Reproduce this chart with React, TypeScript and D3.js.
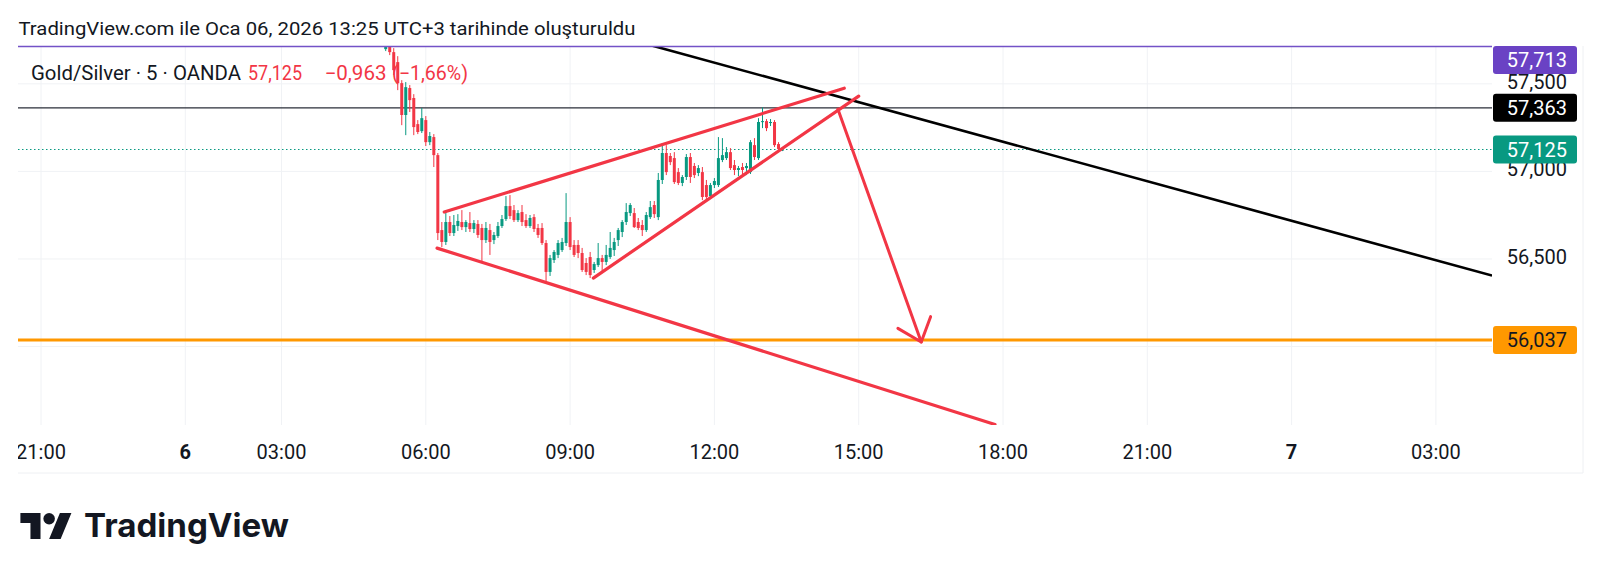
import React from 'react';
import * as d3 from 'd3';

// ---- data ----
const titleText = 'TradingView.com ile Oca 06, 2026 13:25 UTC+3 tarihinde oluşturuldu';
const symbolText = 'Gold/Silver · 5 · OANDA';
const lastPrice = 57.125;
const change = -0.963;
const changePct = -1.66;

// 5-minute bars on Jan 6, first bar time
const firstBarTime = '05:10';
const opens = [57.698, 57.715, 57.681, 57.624, 57.504, 57.322, 57.476, 57.419, 57.270, 57.230,
  57.293, 57.167, 57.196, 57.093, 56.665, 56.597, 56.711, 56.648, 56.688, 56.711,
  56.682, 56.705, 56.671, 56.700, 56.677, 56.608, 56.665, 56.608, 56.631, 56.688,
  56.728, 56.802, 56.779, 56.722, 56.768, 56.722, 56.688, 56.739, 56.677, 56.677,
  56.591, 56.426, 56.494, 56.523, 56.551, 56.591, 56.711, 56.580, 56.580, 56.534,
  56.477, 56.511, 56.437, 56.465, 56.505, 56.483, 56.511, 56.551, 56.608, 56.654,
  56.711, 56.762, 56.762, 56.711, 56.694, 56.665, 56.739, 56.808, 56.739, 56.951,
  57.105, 57.088, 57.076, 56.996, 56.934, 56.968, 57.082, 57.031, 56.991, 56.996,
  56.922, 56.859, 56.922, 56.922, 57.065, 57.076, 57.110, 57.036, 57.008, 57.025,
  57.019, 56.996, 57.150, 57.076, 57.282, 57.287, 57.276, 57.282, 57.156, 57.122];
const highs = [57.727, 57.727, 57.704, 57.658, 57.521, 57.510, 57.493, 57.441, 57.293, 57.362,
  57.316, 57.225, 57.213, 57.105, 56.711, 56.768, 56.745, 56.751, 56.756, 56.779,
  56.722, 56.768, 56.722, 56.722, 56.700, 56.711, 56.700, 56.654, 56.711, 56.751,
  56.859, 56.865, 56.808, 56.779, 56.808, 56.756, 56.751, 56.756, 56.700, 56.705,
  56.608, 56.523, 56.551, 56.608, 56.620, 56.876, 56.739, 56.608, 56.608, 56.563,
  56.505, 56.540, 56.483, 56.591, 56.523, 56.580, 56.654, 56.620, 56.677, 56.722,
  56.819, 56.819, 56.791, 56.734, 56.722, 56.768, 56.831, 56.831, 56.991, 57.162,
  57.150, 57.105, 57.110, 57.019, 56.979, 57.099, 57.105, 57.048, 57.036, 57.025,
  56.951, 56.934, 56.962, 57.196, 57.190, 57.139, 57.133, 57.065, 57.031, 57.048,
  57.048, 57.179, 57.190, 57.304, 57.365, 57.299, 57.299, 57.293, 57.167, 57.139];
const lows = [57.687, 57.664, 57.550, 57.464, 57.264, 57.207, 57.339, 57.207, 57.213, 57.219,
  57.145, 57.150, 57.025, 56.608, 56.568, 56.580, 56.631, 56.631, 56.660, 56.665,
  56.654, 56.654, 56.648, 56.620, 56.483, 56.591, 56.523, 56.585, 56.620, 56.677,
  56.717, 56.728, 56.711, 56.711, 56.688, 56.677, 56.677, 56.654, 56.620, 56.580,
  56.368, 56.403, 56.477, 56.505, 56.540, 56.574, 56.551, 56.511, 56.505, 56.426,
  56.408, 56.391, 56.420, 56.454, 56.420, 56.465, 56.500, 56.517, 56.574, 56.625,
  56.694, 56.745, 56.677, 56.665, 56.631, 56.654, 56.728, 56.734, 56.722, 56.928,
  56.979, 57.036, 56.928, 56.922, 56.916, 56.951, 56.934, 56.962, 56.973, 56.836,
  56.836, 56.848, 56.905, 56.911, 57.053, 57.065, 57.008, 56.979, 56.973, 56.985,
  56.979, 56.985, 57.065, 57.065, 57.247, 57.230, 57.259, 57.139, 57.110, 57.116];
const closes = [57.715, 57.681, 57.578, 57.504, 57.322, 57.481, 57.407, 57.253, 57.225, 57.304,
  57.167, 57.202, 57.093, 56.648, 56.597, 56.711, 56.648, 56.694, 56.717, 56.682,
  56.711, 56.671, 56.705, 56.637, 56.608, 56.677, 56.597, 56.637, 56.688, 56.728,
  56.802, 56.745, 56.722, 56.762, 56.711, 56.688, 56.734, 56.671, 56.637, 56.591,
  56.426, 56.505, 56.540, 56.591, 56.597, 56.711, 56.568, 56.523, 56.534, 56.437,
  56.426, 56.408, 56.471, 56.505, 56.483, 56.523, 56.563, 56.597, 56.665, 56.711,
  56.768, 56.808, 56.682, 56.677, 56.665, 56.751, 56.796, 56.756, 56.951, 57.105,
  56.996, 57.053, 56.939, 56.934, 56.968, 57.082, 56.968, 56.979, 57.019, 56.854,
  56.854, 56.922, 56.945, 57.076, 57.093, 57.110, 57.019, 57.008, 57.019, 57.008,
  57.031, 57.167, 57.082, 57.282, 57.287, 57.247, 57.282, 57.150, 57.128, 57.125];

// time axis labels: [day, time, label]
const timeTicks: [number, string, string][] = [
  [5, '21:00', '21:00'], [6, '00:00', '6'], [6, '03:00', '03:00'], [6, '06:00', '06:00'],
  [6, '09:00', '09:00'], [6, '12:00', '12:00'], [6, '15:00', '15:00'], [6, '18:00', '18:00'],
  [6, '21:00', '21:00'], [7, '00:00', '7'], [7, '03:00', '03:00'],
];
const gridPrices = [56.0, 56.5, 57.0, 57.5];
const priceLabels = [56.5, 57.0, 57.5];

// horizontal levels
const purpleLevel = 57.713;
const blackLevel = 57.363;
const supportLevel = 56.037;

// drawings: [day, time, price]
const trendLine: [number, string, number][] = [[6, '09:37', 57.80], [7, '04:10', 56.405]];
const wedgeUpper: [number, string, number][] = [[6, '06:23', 56.768], [6, '14:42', 57.475]];
const wedgeLower: [number, string, number][] = [[6, '09:29', 56.391], [6, '15:00', 57.430]];
const fallingLine: [number, string, number][] = [[6, '06:14', 56.562], [6, '17:50', 55.555]];
const arrowLine: [number, string, number][] = [[6, '14:34', 57.356], [6, '16:18', 56.026]];

// ---- helpers ----
// compressed chart time (hours from Jan 5 21:00; 01:00-02:00 break on Jan 6 removed)
function toT(day: number, hhmm: string) {
  const [h, m] = hhmm.split(':').map(Number);
  const hr = h + m / 60;
  if (day === 5) return hr - 21;
  if (day === 6) return hr < 1 ? 3 + hr : hr + 2;
  return 26 + hr;
}
function addMinutes(hhmm: string, mins: number) {
  const [h, m] = hhmm.split(':').map(Number);
  const t = h * 60 + m + mins;
  return `${String(Math.floor(t / 60)).padStart(2, '0')}:${String(t % 60).padStart(2, '0')}`;
}
const fmt = (v: number) => d3.format('.3f')(v).replace('.', ',');
const fmtSigned = (v: number, d: number) => (v < 0 ? '\u2212' : '') + d3.format(`.${d}f`)(Math.abs(v)).replace('.', ',');

const GREEN = '#089981';
const RED = '#F23645';
const TXT = '#131722';
const FONT = 'Roboto, "Noto Sans", sans-serif';

export default function App() {
  const plot = { l: 18, r: 1492, t: 46, b: 425 };
  const x = d3.scaleLinear().domain([0, 30]).range([41, 41 + 30 * 48.1]);
  const y = d3.scaleLinear().domain([55.552, 57.716]).range([plot.b, plot.t]);
  const px = (p: [number, string, number]) => [x(toT(p[0], p[1])), y(p[2])];

  const candles = opens.map((o, i) => {
    const t = addMinutes(firstBarTime, i * 5);
    return { cx: x(toT(6, t)), o, h: highs[i], l: lows[i], c: closes[i] };
  });

  const seg = (pts: [number, string, number][]) => {
    const [a, b] = pts.map(px);
    return { x1: a[0], y1: a[1], x2: b[0], y2: b[1] };
  };

  const arrow = seg(arrowLine);
  const ang = Math.atan2(arrow.y1 - arrow.y2, arrow.x1 - arrow.x2);
  const wl = 27, wa = (40 * Math.PI) / 180;
  const wing1 = [arrow.x2 + wl * Math.cos(ang + wa), arrow.y2 + wl * Math.sin(ang + wa)];
  const wing2 = [arrow.x2 + wl * Math.cos(ang - wa), arrow.y2 + wl * Math.sin(ang - wa)];

  const boxes = [
    { v: purpleLevel, fill: '#6a42c4', text: '#ffffff' },
    { v: blackLevel, fill: '#000000', text: '#ffffff' },
    { v: lastPrice, fill: GREEN, text: '#ffffff' },
    { v: supportLevel, fill: '#FF9800', text: TXT },
  ];

  const redLines = [wedgeUpper, wedgeLower, fallingLine].map(seg);
  const tl = seg(trendLine);

  return (
    <svg width={1600} height={575} style={{ position: 'absolute', left: 0, top: 0, background: '#fff' }}
      fontFamily={FONT}>
      <defs>
        <clipPath id="plotClip"><rect x={plot.l} y={plot.t} width={plot.r - plot.l} height={plot.b - plot.t} /></clipPath>
        <clipPath id="axisClip"><rect x={plot.l} y={plot.b} width={plot.r - plot.l} height={50} /></clipPath>
      </defs>
      <rect x={0} y={0} width={1600} height={575} fill="#fff" />

      {/* title */}
      <text x={18.5} y={34.5} fontSize={19} fill={TXT} textLength={617} lengthAdjust="spacingAndGlyphs">{titleText}</text>

      {/* frame */}
      <line x1={plot.l} x2={1583} y1={473} y2={473} stroke="#eef0f3" strokeWidth={1} />
      <line x1={1583} x2={1583} y1={plot.t} y2={473} stroke="#eef0f3" strokeWidth={1} />

      {/* grid */}
      <g clipPath="url(#plotClip)">
        {gridPrices.map((p) => (
          <line key={p} x1={plot.l} x2={plot.r} y1={y(p)} y2={y(p)} stroke="#f0f2f5" strokeWidth={1} />
        ))}
        {timeTicks.map(([d, t]) => (
          <line key={d + t} x1={x(toT(d, t))} x2={x(toT(d, t))} y1={plot.t} y2={plot.b} stroke="#f0f2f5" strokeWidth={1} />
        ))}
      </g>

      <g clipPath="url(#plotClip)">
        {/* horizontal levels */}
        <line x1={plot.l} x2={plot.r} y1={y(supportLevel)} y2={y(supportLevel)} stroke="#FF9800" strokeWidth={3} />
        <line x1={plot.l} x2={plot.r} y1={y(blackLevel)} y2={y(blackLevel)} stroke="#2a2e39" strokeWidth={1.2} />
        <line x1={plot.l} x2={plot.r} y1={y(lastPrice)} y2={y(lastPrice)} stroke={GREEN} strokeWidth={1} strokeDasharray="1.5 2.5" />
        {/* trend line */}
        <line {...tl} stroke="#000" strokeWidth={2.6} />
        {/* candles */}
        {candles.map((k, i) => {
          const up = k.c >= k.o;
          const col = up ? GREEN : RED;
          const top = y(Math.max(k.o, k.c));
          const bot = y(Math.min(k.o, k.c));
          return (
            <g key={i}>
              <line x1={k.cx} x2={k.cx} y1={y(k.h)} y2={y(k.l)} stroke={col} strokeWidth={1} />
              <rect x={k.cx - 1.5} y={top} width={3} height={Math.max(1, bot - top)} fill={col} />
            </g>
          );
        })}
        {/* red drawings */}
        {redLines.map((s, i) => (
          <line key={i} {...s} stroke={RED} strokeWidth={3.2} strokeLinecap="round" />
        ))}
        <line {...arrow} stroke={RED} strokeWidth={3} strokeLinecap="round" />
        <polyline points={`${wing1[0]},${wing1[1]} ${arrow.x2},${arrow.y2} ${wing2[0]},${wing2[1]}`}
          fill="none" stroke={RED} strokeWidth={3} strokeLinecap="round" strokeLinejoin="round" />
      </g>
      {/* purple top level */}
      <line x1={plot.l} x2={plot.r} y1={y(purpleLevel)} y2={y(purpleLevel)} stroke="#7352c7" strokeWidth={1.5} />

      {/* legend */}
      <text x={31} y={79.5} fontSize={19.5} fill={TXT} textLength={210} lengthAdjust="spacingAndGlyphs">{symbolText}</text>
      <text x={248} y={79.5} fontSize={19.5} fill={RED} textLength={54} lengthAdjust="spacingAndGlyphs">{fmt(lastPrice)}</text>
      <text x={324.5} y={79.5} fontSize={19.5} fill={RED} textLength={62} lengthAdjust="spacingAndGlyphs">{fmtSigned(change, 3)}</text>
      <text x={392} y={79.5} fontSize={19.5} fill={RED} textLength={76} lengthAdjust="spacingAndGlyphs">{`(${fmtSigned(changePct, 2)}%)`}</text>

      {/* time axis */}
      <g clipPath="url(#axisClip)">
        {timeTicks.map(([d, t, lab]) => (
          <text key={d + t} x={x(toT(d, t))} y={459} fontSize={20} fill={TXT} textAnchor="middle"
            fontWeight={lab.length === 1 ? 700 : 400}>{lab}</text>
        ))}
      </g>

      {/* price axis */}
      {priceLabels.map((p) => (
        <text key={p} x={1567} y={y(p) + 5} fontSize={20} fill={TXT} textAnchor="end">{fmt(p)}</text>
      ))}
      {boxes.map((b) => {
        const cy = Math.max(plot.t + 14, y(b.v));
        return (
          <g key={b.v}>
            <rect x={1493} y={cy - 14} width={84} height={28} rx={3} fill={b.fill} />
            <text x={1567} y={cy + 7} fontSize={20} fill={b.text} textAnchor="end">{fmt(b.v)}</text>
          </g>
        );
      })}

      {/* logo */}
      <g transform="translate(20.4,507.3) scale(1.437)" fill="#131722">
        <path d="M14 22H7V11H0V4h14v18zM28 22h-8l7.5-18h8L28 22z" />
        <circle cx={20} cy={8} r={4} />
      </g>
      <text x={84} y={537} fontSize={33} fontWeight={700} fill="#131722" fontFamily="Inter, Roboto, sans-serif"
        textLength={205} lengthAdjust="spacingAndGlyphs">TradingView</text>
    </svg>
  );
}
